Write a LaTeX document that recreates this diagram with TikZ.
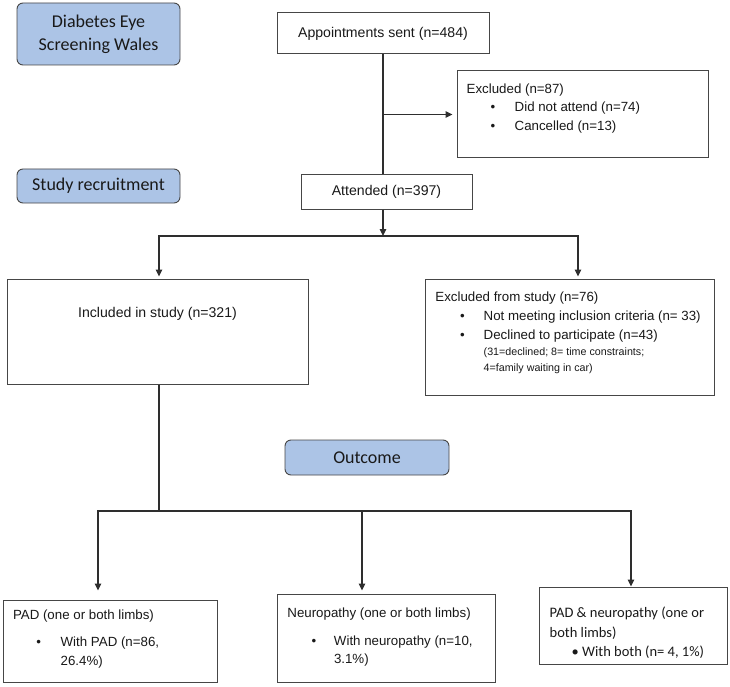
\documentclass[tikz,border=0pt]{standalone}
\usepackage{fontspec}
\setmainfont{Liberation Sans}
\newfontfamily\calibfont{Carlito}
\usetikzlibrary{arrows.meta,positioning,calc}
\definecolor{stageBlue}{RGB}{172,196,230}
\definecolor{edgeGrey}{RGB}{70,70,70}
\colorlet{lineDark}{black!82}
\colorlet{inkText}{black!90}

\newcommand{\blt}[2]{\hspace*{#1}\makebox[#2][l]{\textbullet}}

\begin{document}
\begin{tikzpicture}[x=1pt,y=-1pt,
    stagebox/.style={rounded corners=6pt,draw=edgeGrey,line width=0.9pt,fill=stageBlue,
      align=center,text=inkText,inner sep=0pt,
      font=\calibfont\fontsize{18}{23.3}\selectfont},
    flowbox/.style={draw=edgeGrey,line width=1pt,fill=white,inner sep=0pt,
      text=inkText,font=\fontsize{14.1}{16}\selectfont},
    boxtext/.style={align=left,inner sep=0pt,text=inkText,
      font=\fontsize{13.3}{18.5}\selectfont},
    link/.style={line width=1.2pt,draw=lineDark},
    arrow/.style={link,-{Triangle[length=7pt,width=6.5pt]}}]
  \useasboundingbox (0,0) rectangle (730,687);

  % Stage labels, left column.
  \node[stagebox,minimum width=163,minimum height=62] (dews) at (98.5,34)
    {Diabetes Eye\\Screening Wales};
  \node[stagebox,minimum width=163,minimum height=34] (recr) at (98.5,186) {Study recruitment};
  \node[stagebox,minimum width=164,minimum height=35] (outc) at (367,457.5) {Outcome};

  % Screening appointments.
  \node[flowbox,minimum width=212,minimum height=41] (appt) at (383,33.5) {Appointments sent (n=484)};
  \node[flowbox,minimum width=171,minimum height=34] (att) at (386.5,192) {Attended (n=397)};
  \node[flowbox,minimum width=251,minimum height=87] (excl) at (582.5,114.5) {};
  \node[boxtext,anchor=north west] (exclT) at ([shift={(10,9.4)}]excl.north west)
    {\strut Excluded (n=87)\\
     \blt{24pt}{24pt}Did not attend (n=74)\\
     \blt{24pt}{24pt}Cancelled (n=13)};
  \draw[link] (appt.south) -- (appt.south |- att.north);
  \draw[arrow,shorten >=4pt] (appt.south |- excl.west) -- (excl.west);

  % Recruitment into the study.
  \node[flowbox,minimum width=301,minimum height=105] (incl) at (157.5,331.5) {};
  \node[boxtext,anchor=base,font=\fontsize{14.1}{16}\selectfont] (inclT)
    at ([shift={(0,39)}]incl.north) {Included in study (n=321)};
  \node[flowbox,minimum width=289,minimum height=116] (exfs) at (569.5,337) {};
  \node[boxtext,anchor=north west,font=\fontsize{13.3}{19}\selectfont] (exfsT)
    at ([shift={(10.7,9.5)}]exfs.north west)
    {\strut Excluded from study (n=76)\\
     \blt{24.7pt}{23.6pt}Not meeting inclusion criteria (n= 33)\\
     \blt{24.7pt}{23.6pt}Declined to participate (n=43)\\[-3pt]
     \hspace*{48.3pt}{\fontsize{10.7}{16}\selectfont (31=declined; 8= time constraints;}\\[-3pt]
     \hspace*{48.3pt}{\fontsize{10.7}{16}\selectfont 4=family waiting in car)}};
  \coordinate (split) at (383,236);
  \coordinate (splitL) at (159,236);
  \coordinate (splitR) at (578,236);
  \draw[arrow] (appt.south |- att.south) -- (split);
  \draw[arrow,shorten >=2pt] (split) -| (splitL |- incl.north);
  \draw[arrow,shorten >=2pt] (split) -| (splitR |- exfs.north);

  % Outcome boxes.
  \node[flowbox,minimum width=214,minimum height=82] (pad) at (110,641) {};
  \node[boxtext,anchor=north west] (padT) at ([shift={(10.3,6.4)}]pad.north west)
    {\strut PAD (one or both limbs)\\[9pt]
     \blt{23.4pt}{24.3pt}With PAD (n=86,\\
     \hspace*{47.7pt}26.4\%)};
  \node[flowbox,minimum width=218,minimum height=88] (neur) at (386,638) {};
  \node[boxtext,anchor=north west] (neurT) at ([shift={(10.7,11)}]neur.north west)
    {\strut Neuropathy (one or both limbs)\\[9pt]
     \blt{24.3pt}{22.3pt}With neuropathy (n=10,\\
     \hspace*{46.6pt}3.1\%)};
  \node[flowbox,minimum width=188,minimum height=77] (both) at (633,625.5) {};
  \node[boxtext,anchor=north west,font=\calibfont\fontsize{14.5}{19.5}\selectfont] (bothT)
    at ([shift={(11,17.3)}]both.north west)
    {\strut PAD \& neuropathy (one or\\
     both limbs)\\
     \hspace*{22pt}\textbullet\ With both (n= 4, 1\%)};
  \coordinate (fork) at (159,511);
  \coordinate (forkL) at (98,511);
  \coordinate (forkM) at (362,511);
  \coordinate (forkR) at (631,511);
  \draw[link] (splitL |- incl.south) -- (fork);
  \draw[arrow,shorten >=9pt] (fork) -| (forkL |- pad.north);
  \draw[link] (fork) -- (forkM);
  \draw[arrow,shorten >=3pt] (forkM) -- (forkM |- neur.north);
  \draw[arrow] (forkM) -| (forkR |- both.north);
\end{tikzpicture}
\end{document}
